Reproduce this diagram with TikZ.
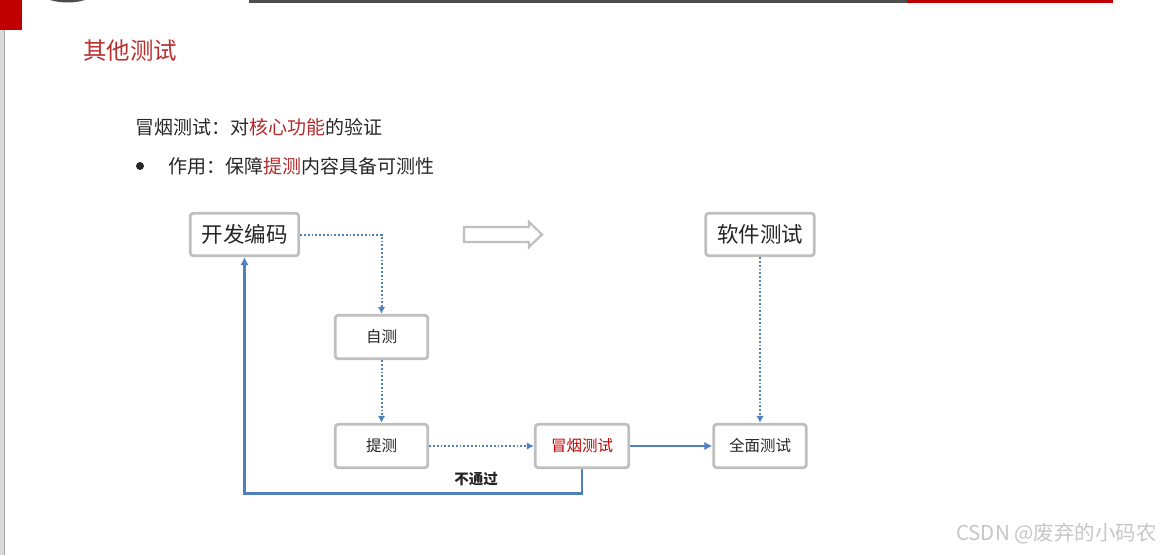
\documentclass[tikz,border=0pt]{standalone}
\usepackage{fontspec}
\setmainfont{Noto Sans CJK SC}
\usetikzlibrary{arrows.meta,positioning}
\definecolor{barred}{HTML}{C00000}
\definecolor{bardark}{HTML}{4D4F4F}
\definecolor{titlered}{HTML}{B8312F}
\definecolor{keyred}{HTML}{B22A2A}
\definecolor{textdark}{HTML}{262626}
\definecolor{boxgray}{HTML}{BFBFBF}
\definecolor{flowblue}{HTML}{4F81BD}
\definecolor{stripgray}{HTML}{DADADA}
\tikzset{
	box/.style={draw=boxgray, line width=2.8pt, rounded corners=3pt, fill=white,
			text=textdark, inner sep=0pt, minimum width=92.5pt, minimum height=43.5pt,
			font=\fontsize{15.5}{15.5}\selectfont},
	bigbox/.style={box, minimum width=108.5pt, minimum height=42.5pt,
			font=\fontsize{21.5}{21.5}\selectfont},
	dotline/.style={draw=flowblue, line width=2pt, dash pattern=on 1.8pt off 2pt,
			-{Latex[length=7pt,width=7.5pt]}},
	solidline/.style={draw=flowblue, line width=2.8pt, -{Latex[length=8pt,width=8.5pt]}}
}
\begin{document}
\begin{tikzpicture}[x=1pt, y=-1pt]
        \useasboundingbox (0,0) rectangle (1161,555);
        % frame of the slide
        \fill[stripgray] (0,30) rectangle (4,555);
        \draw[gray!70, line width=1pt] (4.5,30) -- (4.5,555);
        \fill[barred] (0,0) rectangle (22,30);
        \begin{scope}
            \clip (0,0) rectangle (1161,555);
            \fill[gray!60!black] (67.5,-60) circle (62.5);
        \end{scope}
        \fill[bardark] (249,0) rectangle (907,2.5);
        \fill[barred] (907,0) rectangle (1113,2.5);
        % heading and bullets
        \node[anchor=west, inner sep=0pt, text=titlered, font=\fontsize{23.5}{23.5}\selectfont] (title) at (83,51) {其他测试};
        \node[anchor=west, inner sep=0pt, text=textdark, font=\fontsize{19}{19}\selectfont] (smoketext) at (135,127)
            {冒烟测试：对\textcolor{keyred}{核心功能}的验证};
        \fill[textdark] (140,166) circle (4);
        \node[anchor=west, inner sep=0pt, text=textdark, font=\fontsize{19}{19}\selectfont] (usetext) at (168,166)
            {作用：保障\textcolor{keyred}{提测}内容具备可测性};
        % flow boxes
        \node[bigbox] (code) at (244.5,234.5) {开发编码};
        \node[box] (self) at (381.5,337) {自测};
        \node[box] (submit) at (381.5,446) {提测};
        \node[box, text=barred, minimum width=93.5pt] (smoke) at (582,446) {冒烟测试};
        \node[box] (full) at (760,446) {全面测试};
        \node[bigbox] (soft) at (760,234.5) {软件测试};
        % hollow arrow
        \draw[boxgray, line width=2.2pt] (464,227) -- (529,227) -- (529,222) -- (542,234.5)
            -- (529,247) -- (529,242) -- (464,242) -- cycle;
        % connectors
        \draw[dotline] (code.east) -| (self.north);
        \draw[dotline] (self.south) -- (submit.north);
        \draw[dotline] (submit.east) -- (smoke.west);
        \draw[dotline] (soft.south) -- (full.north);
        \draw[solidline] (smoke.east) -- (full.west);
        \draw[solidline] (smoke.south) -- ++(0,24) -| (code.south);
        \node[text=textdark, font=\bfseries\fontsize{14.5}{14.5}\selectfont] (fail) at (476,479) {不通过};
        % watermark
        \node[anchor=east, inner sep=0pt, text=gray!45, font=\fontsize{20.5}{20.5}\selectfont] (mark) at (1157,534) {CSDN @废弃的小码农};
    \end{tikzpicture}
\end{document}
